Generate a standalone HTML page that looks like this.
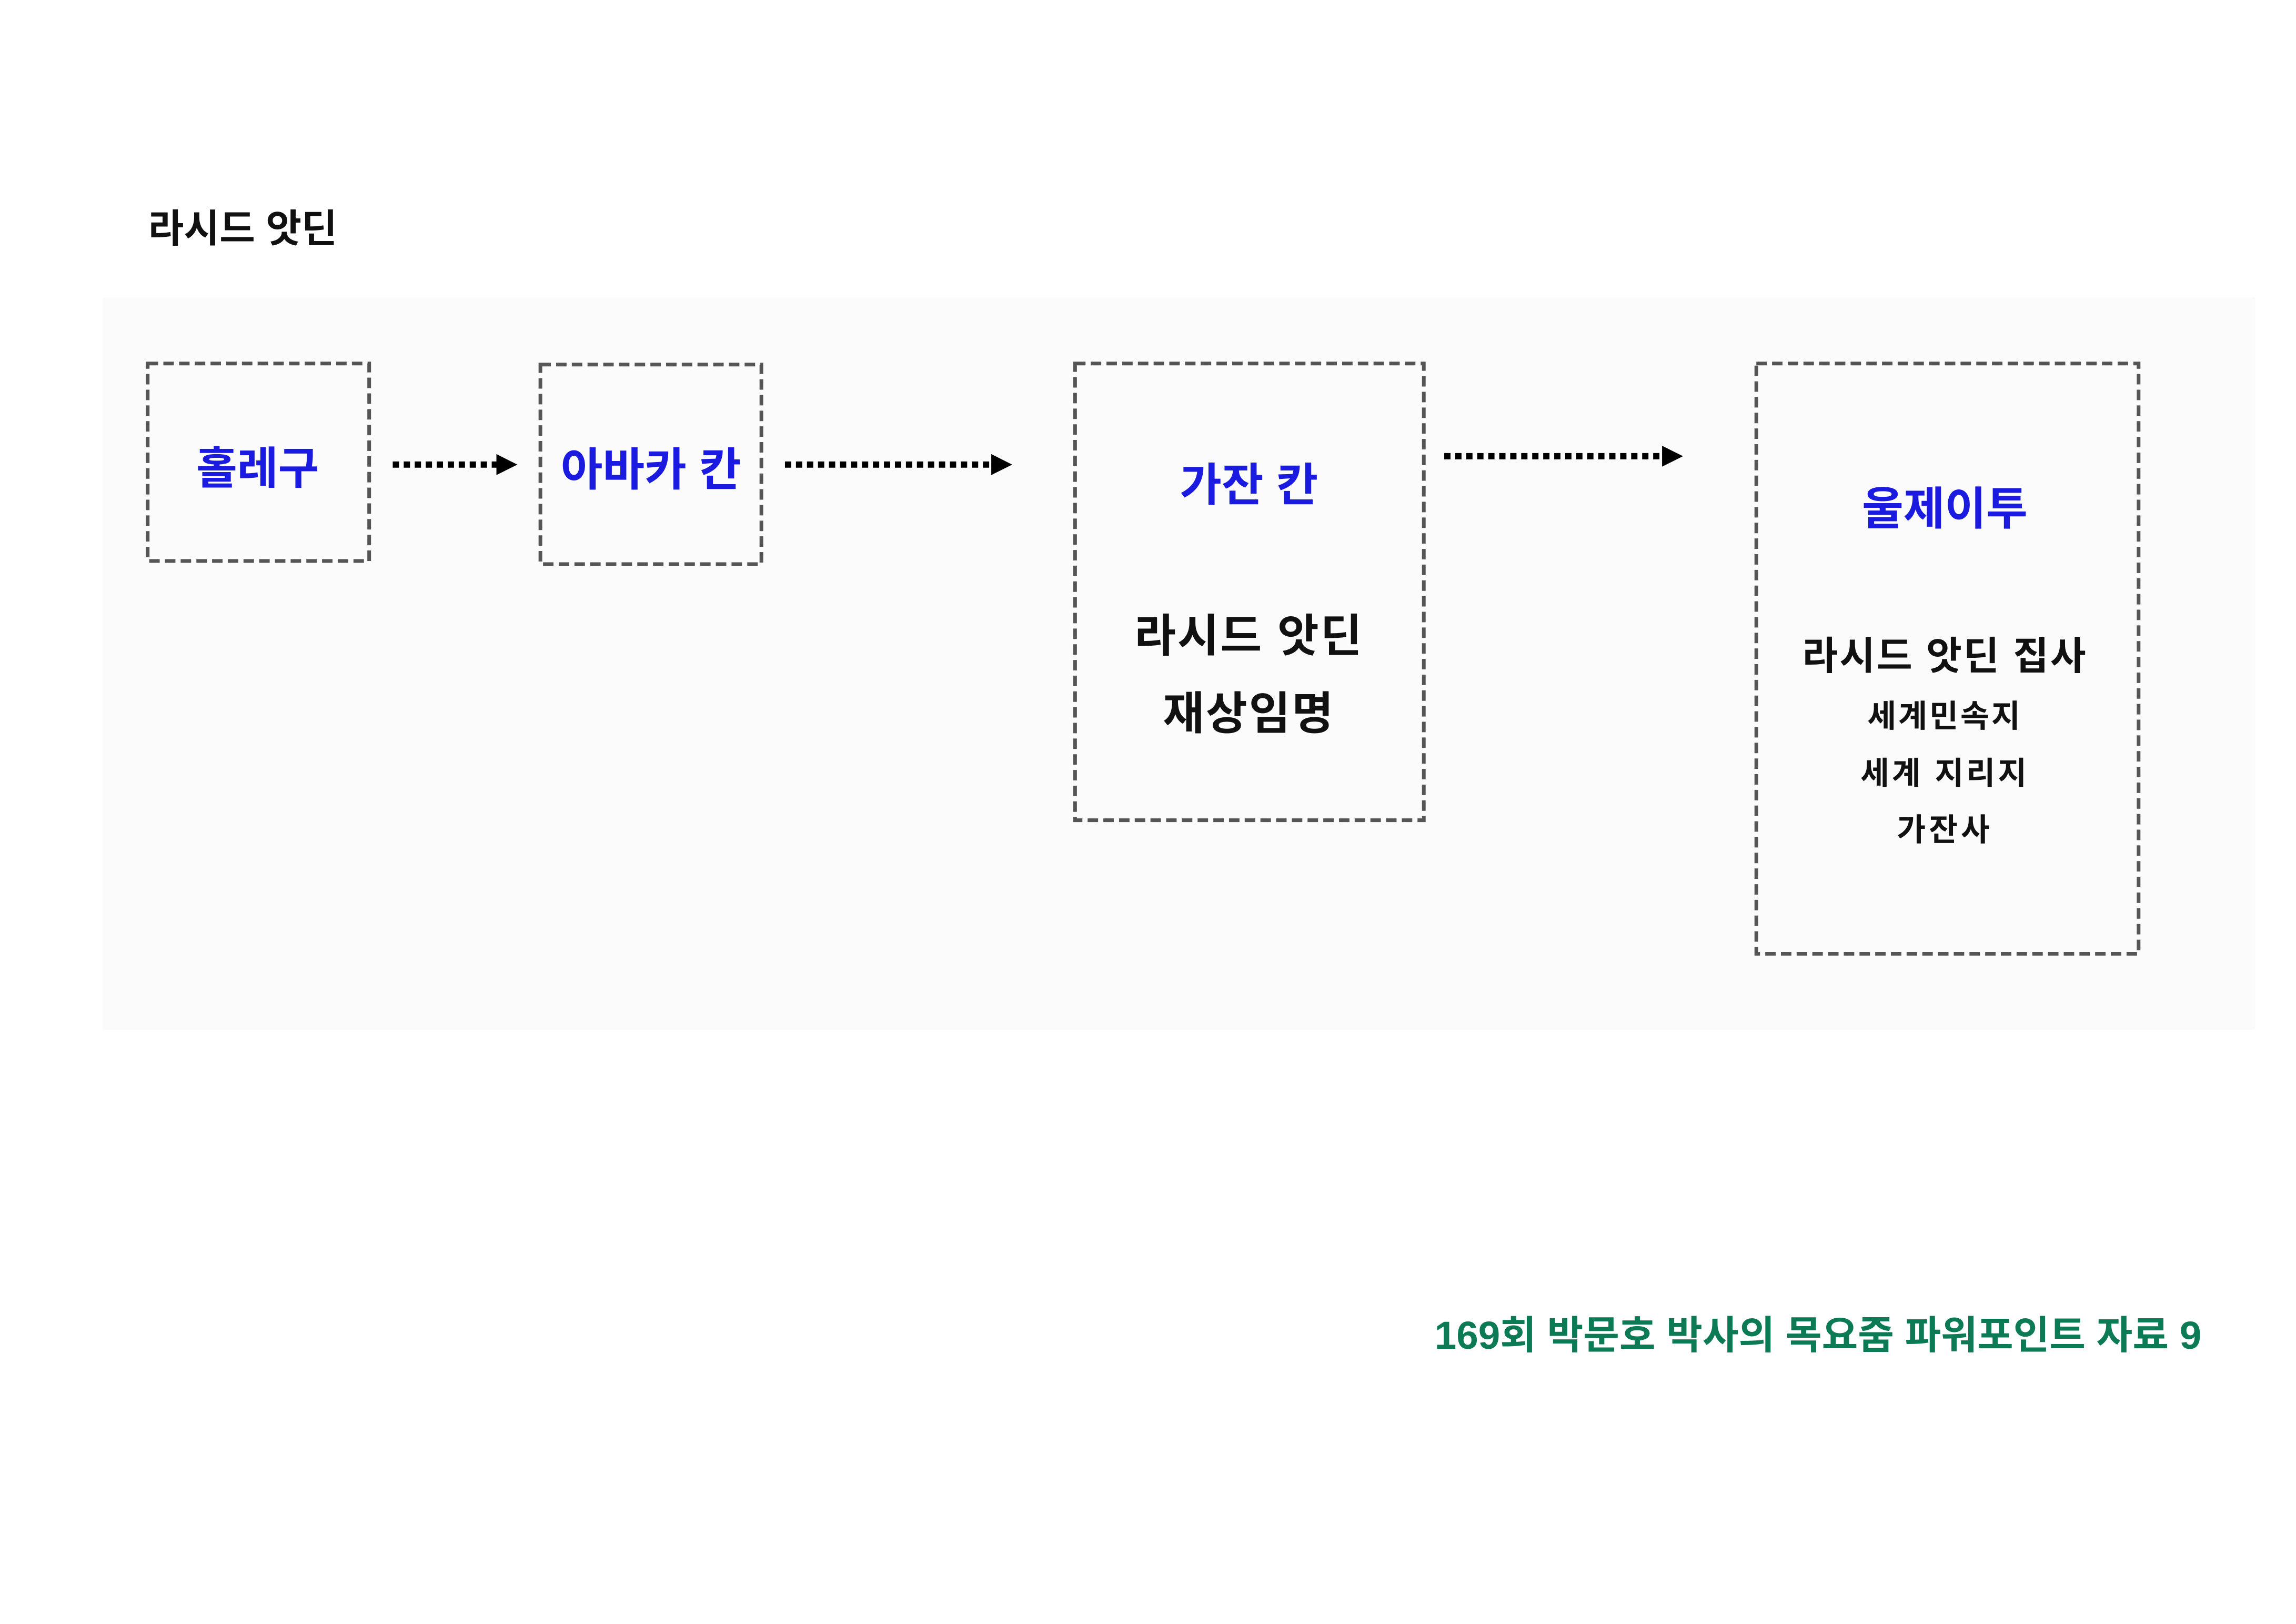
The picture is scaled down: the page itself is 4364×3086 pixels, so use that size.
<!DOCTYPE html>
<html><head><meta charset="utf-8"><style>
html,body{margin:0;padding:0;background:#fff}
body{width:4364px;height:3086px;position:relative;overflow:hidden}
svg{position:absolute;left:0;top:0}
text{font-family:"Liberation Sans","Noto Sans CJK KR",sans-serif;font-weight:bold}
</style></head><body>
<svg width="4364" height="3086" viewBox="0 0 4364 3086">
<g transform="scale(0.9953)">
<rect x="196" y="568" width="4111" height="1398" fill="#fbfbfb"/>
<text x="283" y="462" font-size="74" fill="#111">라시드 앗딘</text>
<g fill="none" stroke="#555" stroke-width="7" stroke-dasharray="20 10">
<rect x="282" y="694" width="423" height="377"/>
<rect x="1032" y="696" width="422" height="381"/>
<rect x="2053" y="694" width="666" height="872"/>
<rect x="3354" y="694" width="730" height="1127"/>
</g>
<g stroke="#000" stroke-width="12" stroke-dasharray="12 9">
<line x1="750" y1="887" x2="950" y2="887"/>
<line x1="1499" y1="887" x2="1895" y2="887"/>
<line x1="2758" y1="871" x2="3176" y2="871"/>
</g>
<g fill="#000">
<polygon points="948,867 988,887 948,907"/>
<polygon points="1893,867 1933,887 1893,907"/>
<polygon points="3174,851 3214,871 3174,891"/>
</g>
<g text-anchor="middle" fill="#1a1ae0">
<text x="492" y="924" font-size="85">홀레구</text>
<text x="1243" y="927" font-size="87">아바카 칸</text>
<text x="2385" y="956" font-size="87">가잔 칸</text>
<text x="3714" y="1001" font-size="86">울제이투</text>
</g>
<g text-anchor="middle" fill="#111">
<text x="2385" y="1244" font-size="86" letter-spacing="3">라시드 앗딘</text>
<text x="2385" y="1392" font-size="86" letter-spacing="3">재상임명</text>
<text x="3714" y="1278" font-size="74" letter-spacing="3">라시드 앗딘 집사</text>
<text x="3714" y="1388" font-size="60" letter-spacing="4">세계민속지</text>
<text x="3714" y="1497" font-size="60" letter-spacing="5">세계 지리지</text>
<text x="3714" y="1605" font-size="60" letter-spacing="6">가잔사</text>
</g>
<text x="4204" y="2575" text-anchor="end" font-size="75" fill="#0b7a55">169회 박문호 박사의 목요줌 파워포인트 자료 9</text>
</g>
</svg>
</body></html>
